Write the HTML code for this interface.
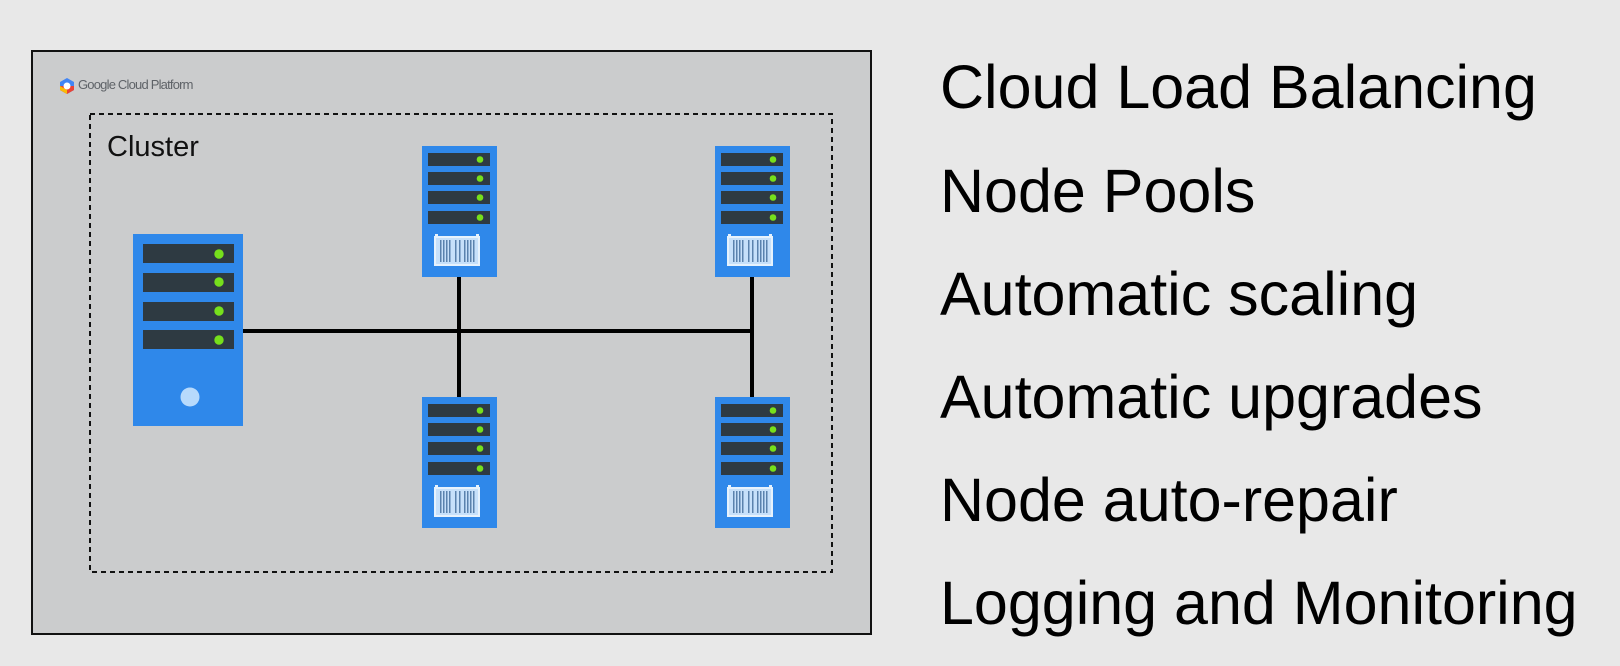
<!DOCTYPE html>
<html><head><meta charset="utf-8"><style>
html,body{margin:0;padding:0;background:#e8e8e8;}
svg{display:block;}
</style></head><body>
<svg width="1620" height="666" viewBox="0 0 1620 666" xmlns="http://www.w3.org/2000/svg">
<defs>
<g id="node">
<rect x="0" y="0" width="75" height="131" fill="#2f88ea"/>
<rect x="6" y="7" width="62" height="13" fill="#2e3a42"/>
<rect x="6" y="26" width="62" height="13" fill="#2e3a42"/>
<rect x="6" y="45" width="62" height="13" fill="#2e3a42"/>
<rect x="6" y="65" width="62" height="13" fill="#2e3a42"/>
<circle cx="58" cy="13.5" r="3.3" fill="#76e01c"/>
<circle cx="58" cy="32.5" r="3.3" fill="#76e01c"/>
<circle cx="58" cy="51.5" r="3.3" fill="#76e01c"/>
<circle cx="58" cy="71.5" r="3.3" fill="#76e01c"/>
<rect x="13" y="88" width="3" height="6" fill="#e6f2fd"/>
<rect x="54" y="88" width="3" height="6" fill="#e6f2fd"/>
<rect x="13" y="91" width="44" height="28" fill="#c6e0fa" stroke="#e6f2fd" stroke-width="2"/>
<g fill="#5a82ad">
<rect x="18" y="94" width="1.5" height="22"/><rect x="21" y="94" width="1.5" height="22"/><rect x="24" y="94" width="1.5" height="22"/><rect x="27" y="94" width="1.5" height="22"/>
<rect x="33" y="94" width="1.5" height="22"/><rect x="37" y="94" width="1.5" height="22"/>
<rect x="42" y="94" width="1.5" height="22"/><rect x="45" y="94" width="1.5" height="22"/><rect x="48" y="94" width="1.5" height="22"/><rect x="51" y="94" width="1.5" height="22"/>
</g>
</g>
</defs>
<rect x="32" y="51" width="839" height="583" fill="#cbcccd" stroke="#111" stroke-width="2"/>
<polygon points="67,78 74,82 74,90 67,94 60,90 60,82" fill="#4285f4"/>
<polygon points="60,86 60,90 67,94 74,90 74,86" fill="#ea4335"/>
<polygon points="60,86 60,90 67,94 67,90" fill="#fbbc05"/>
<circle cx="67" cy="86" r="3.5" fill="#fff"/>
<text x="78" y="89" font-family="Liberation Sans, sans-serif" font-size="13" fill="#5f6368" letter-spacing="-0.8">Google Cloud Platform</text>
<rect x="90" y="114" width="742" height="458" fill="none" stroke="#111" stroke-width="2" stroke-dasharray="5,4"/>
<text x="107" y="156" font-family="Liberation Sans, sans-serif" font-size="29" fill="#111">Cluster</text>
<rect x="240" y="329" width="514" height="4" fill="#000"/>
<rect x="457" y="275" width="4" height="124" fill="#000"/>
<rect x="750" y="275" width="4" height="124" fill="#000"/>
<rect x="133" y="234" width="110" height="192" fill="#2f88ea"/>
<rect x="143" y="244" width="91" height="19" fill="#2e3a42"/>
<rect x="143" y="273" width="91" height="19" fill="#2e3a42"/>
<rect x="143" y="302" width="91" height="19" fill="#2e3a42"/>
<rect x="143" y="330" width="91" height="19" fill="#2e3a42"/>
<circle cx="219" cy="254" r="4.7" fill="#76e01c"/>
<circle cx="219" cy="282" r="4.7" fill="#76e01c"/>
<circle cx="219" cy="311" r="4.7" fill="#76e01c"/>
<circle cx="219" cy="340" r="4.7" fill="#76e01c"/>
<circle cx="190" cy="397" r="9.5" fill="#b7dafc"/>
<use href="#node" x="422" y="146"/>
<use href="#node" x="715" y="146"/>
<use href="#node" x="422" y="397"/>
<use href="#node" x="715" y="397"/>
<g font-family="Liberation Sans, sans-serif" font-size="61" fill="#000">
<text x="940" y="108">Cloud Load Balancing</text>
<text x="940" y="212">Node Pools</text>
<text x="940" y="315">Automatic scaling</text>
<text x="940" y="418">Automatic upgrades</text>
<text x="940" y="521">Node auto-repair</text>
<text x="940" y="624">Logging and Monitoring</text>
</g>
</svg>
</body></html>
